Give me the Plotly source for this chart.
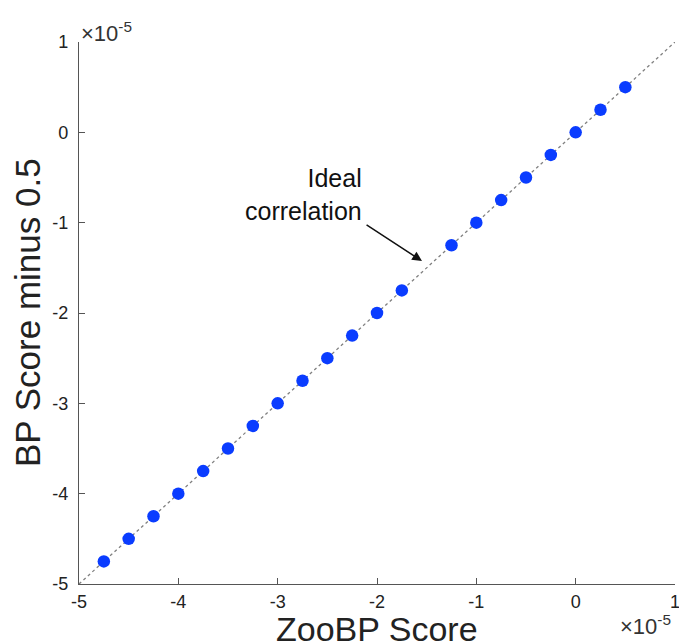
import plotly.graph_objects as go

SCALE = 1e-5

# ZooBP score vs. BP score minus 0.5 (both in units of 1e-5)
zoobp_score = [-4.75, -4.5, -4.25, -4.0, -3.75, -3.5, -3.25, -3.0, -2.75, -2.5,
               -2.25, -2.0, -1.75, -1.25, -1.0, -0.75, -0.5, -0.25, 0.0, 0.25, 0.5]
bp_minus_half = [-4.75, -4.5, -4.25, -4.0, -3.75, -3.5, -3.25, -3.0, -2.75, -2.5,
                 -2.25, -2.0, -1.75, -1.25, -1.0, -0.75, -0.5, -0.25, 0.0, 0.25, 0.5]

ideal_line = [-5, 1]
tick_vals = [-5, -4, -3, -2, -1, 0, 1]
tick_text = ["-5", "-4", "-3", "-2", "-1", "0", "1"]

FONT = "Liberation Sans, Arial, Helvetica, sans-serif"
TXT = "#222222"

fig = go.Figure()

# y = x reference line
fig.add_trace(go.Scatter(
    x=[v * SCALE for v in ideal_line], y=[v * SCALE for v in ideal_line],
    mode="lines", line=dict(color="#808080", width=1.3, dash="dot"),
    hoverinfo="skip", showlegend=False,
))

fig.add_trace(go.Scatter(
    x=[v * SCALE for v in zoobp_score], y=[v * SCALE for v in bp_minus_half],
    mode="markers", marker=dict(color="#0a3cff", size=12.5, line=dict(width=0)),
    showlegend=False,
))

axis_common = dict(
    tickvals=[v * SCALE for v in tick_vals], ticktext=tick_text,
    showgrid=False, zeroline=False, showline=True, linecolor="#555555",
    linewidth=1.2, ticks="inside", ticklen=6, tickcolor="#555555",
    tickfont=dict(family=FONT, size=18, color=TXT), mirror=False,
    ticklabeloverflow="allow", automargin=False,
)

EXP_LABEL = "×10<sup>-5</sup>"

fig.update_layout(
    width=679, height=643,
    margin=dict(l=79, r=4, t=42, b=59),
    paper_bgcolor="white", plot_bgcolor="white",
    font=dict(family=FONT),
    xaxis=dict(range=[-5 * SCALE, 1 * SCALE], ticklabelstandoff=1, **axis_common),
    yaxis=dict(range=[-5 * SCALE, 1 * SCALE], ticklabelstandoff=6, **axis_common),
    annotations=[
        # axis titles
        dict(x=0.5, y=-0.0825, xref="paper", yref="paper", xanchor="center",
             yanchor="middle", text="ZooBP Score", showarrow=False,
             font=dict(family=FONT, size=34, color=TXT)),
        dict(x=-0.0872, y=0.5, xref="paper", yref="paper", xanchor="center",
             yanchor="middle", text="BP Score minus 0.5", showarrow=False,
             textangle=-90, font=dict(family=FONT, size=35, color=TXT)),
        # arrow and label for the y = x line
        dict(x=-1.547 * SCALE, y=-1.425 * SCALE, ax=-2.12 * SCALE, ay=-1.015 * SCALE,
             xref="x", yref="y", axref="x", ayref="y", text="",
             showarrow=True, arrowhead=2, arrowsize=1.3, arrowwidth=1.5,
             arrowcolor="#111111"),
        dict(x=-2.134 * SCALE, y=-0.683 * SCALE, xref="x", yref="y",
             text="Ideal<br>correlation", showarrow=False, align="right",
             xanchor="right", yanchor="middle",
             font=dict(family=FONT, size=25, color="#111111")),
        # exponent labels
        dict(x=0, y=1, xref="paper", yref="paper", xanchor="left", yanchor="bottom",
             text=EXP_LABEL, showarrow=False, xshift=0, yshift=-6,
             font=dict(family=FONT, size=22, color="#333333")),
        dict(x=1, y=0, xref="paper", yref="paper", xanchor="right", yanchor="top",
             text=EXP_LABEL, showarrow=False, yshift=-25, xshift=-2,
             font=dict(family=FONT, size=22, color="#333333")),
    ],
)

fig.write_html("out.html")
